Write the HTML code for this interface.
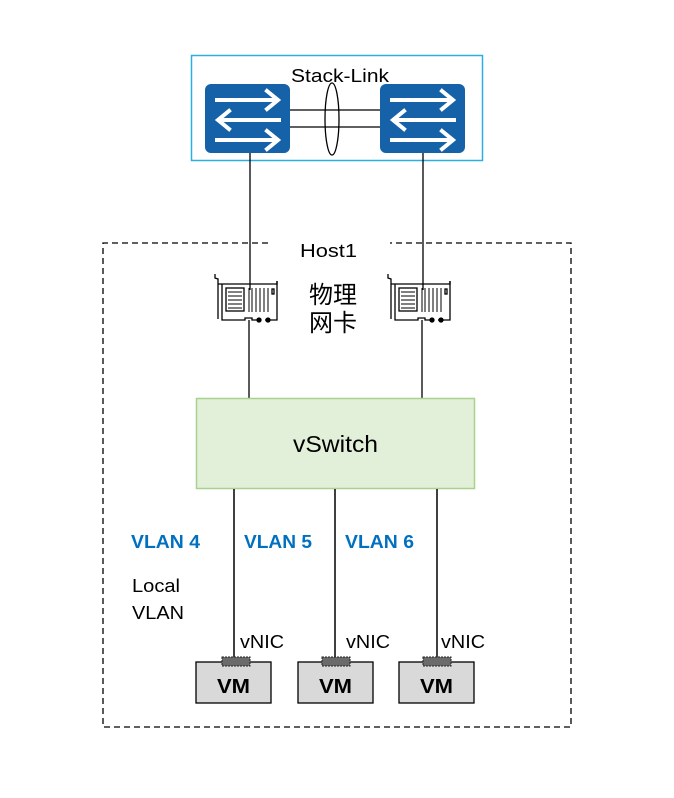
<!DOCTYPE html>
<html><head><meta charset="utf-8"><style>
html,body{margin:0;padding:0;background:#fff;}
svg{display:block;}
text{font-family:"Liberation Sans","Noto Sans CJK SC",sans-serif;}
</style></head><body>
<svg width="674" height="798" viewBox="0 0 674 798" xmlns="http://www.w3.org/2000/svg">
<defs>
<g id="sw">
<rect x="0" y="0" width="85" height="69" rx="6" fill="#1562a8"/>
<g stroke="#fff" stroke-width="4" fill="none" stroke-linecap="square">
<line x1="12" y1="16" x2="72" y2="16"/><polyline points="62,7 73,16 62,25"/>
<line x1="14" y1="36" x2="74" y2="36"/><polyline points="24,27 13,36 24,45"/>
<line x1="12" y1="56" x2="72" y2="56"/><polyline points="62,47 73,56 62,65"/>
</g>
</g>
<g id="nic" fill="none" stroke="#000" stroke-width="1.3">
<polyline points="215,274 215,278 218,279 218,319"/>
<polyline points="218,284 277,284 277,281"/>
<polyline points="277,281 277,320 265,320"/>
<polyline points="222,284 222,320 245,320 245,318 252,318 252,320 258,320"/>
<rect x="226" y="288" width="18" height="23"/>
<g stroke-width="1">
<line x1="228" y1="292" x2="242" y2="292"/><line x1="228" y1="296" x2="242" y2="296"/>
<line x1="228" y1="300" x2="242" y2="300"/><line x1="228" y1="304" x2="242" y2="304"/>
<line x1="228" y1="308" x2="242" y2="308"/>
<line x1="249" y1="288" x2="249" y2="312"/><line x1="252" y1="288" x2="252" y2="312"/>
<line x1="256" y1="288" x2="256" y2="312"/><line x1="260" y1="288" x2="260" y2="312"/>
<line x1="264" y1="288" x2="264" y2="312"/><line x1="268" y1="288" x2="268" y2="312"/>
</g>
<rect x="272" y="289" width="2" height="5"/>
<circle cx="259" cy="320" r="2" fill="#000"/><circle cx="268" cy="320" r="2" fill="#000"/>
</g>
</defs>
<rect x="191.5" y="55.5" width="291" height="105" fill="none" stroke="#2ab0e0" stroke-width="1.5"/>
<line x1="290" y1="110" x2="380" y2="110" stroke="#000" stroke-width="1.3"/>
<line x1="290" y1="127" x2="380" y2="127" stroke="#000" stroke-width="1.3"/>
<ellipse cx="332" cy="119" rx="7" ry="36" fill="none" stroke="#000" stroke-width="1.3"/>
<text x="291" y="82" font-size="18" textLength="98" lengthAdjust="spacingAndGlyphs">Stack-Link</text>
<use href="#sw" x="205" y="84"/>
<use href="#sw" x="380" y="84"/>
<path d="M268,243 H103 V727 H571 V243 H390" fill="none" stroke="#000" stroke-width="1.3" stroke-dasharray="6,4"/>
<text x="300" y="257" font-size="18" textLength="57" lengthAdjust="spacingAndGlyphs">Host1</text>
<line x1="250" y1="153" x2="250" y2="290" stroke="#000" stroke-width="1.3"/>
<line x1="423" y1="153" x2="423" y2="290" stroke="#000" stroke-width="1.3"/>
<use href="#nic"/>
<use href="#nic" x="173"/>
<line x1="249" y1="320" x2="249" y2="398" stroke="#000" stroke-width="1.3"/>
<line x1="422" y1="320" x2="422" y2="398" stroke="#000" stroke-width="1.3"/>
<text x="309" y="303" font-size="24" textLength="48" lengthAdjust="spacingAndGlyphs">物理</text>
<text x="309" y="331" font-size="24" textLength="48" lengthAdjust="spacingAndGlyphs">网卡</text>
<rect x="196.5" y="398.5" width="278" height="90" fill="#e2efd9" stroke="#a9d18e" stroke-width="1.5"/>
<text x="293" y="452" font-size="23" textLength="85" lengthAdjust="spacingAndGlyphs">vSwitch</text>
<g stroke="#000" stroke-width="1.5">
<line x1="234" y1="489" x2="234" y2="660"/>
<line x1="335" y1="489" x2="335" y2="660"/>
<line x1="437" y1="489" x2="437" y2="660"/>
</g>
<g font-size="18" font-weight="bold" fill="#0070c0">
<text x="131" y="548" textLength="69" lengthAdjust="spacingAndGlyphs">VLAN 4</text>
<text x="244" y="548" textLength="68" lengthAdjust="spacingAndGlyphs">VLAN 5</text>
<text x="345" y="548" textLength="69" lengthAdjust="spacingAndGlyphs">VLAN 6</text>
</g>
<text x="132" y="592" font-size="18" textLength="48" lengthAdjust="spacingAndGlyphs">Local</text>
<text x="132" y="619" font-size="18" textLength="52" lengthAdjust="spacingAndGlyphs">VLAN</text>
<g font-size="18">
<text x="240" y="648" textLength="44" lengthAdjust="spacingAndGlyphs">vNIC</text>
<text x="346" y="648" textLength="44" lengthAdjust="spacingAndGlyphs">vNIC</text>
<text x="441" y="648" textLength="44" lengthAdjust="spacingAndGlyphs">vNIC</text>
</g>
<g stroke="#000" stroke-width="1.3" fill="#d9d9d9">
<rect x="196" y="662" width="75" height="41"/>
<rect x="298" y="662" width="75" height="41"/>
<rect x="399" y="662" width="75" height="41"/>
</g>
<g fill="#6b6b6b" stroke="#222" stroke-width="1" stroke-dasharray="2,1">
<rect x="222" y="657" width="28" height="9"/>
<rect x="322" y="657" width="28" height="9"/>
<rect x="423" y="657" width="28" height="9"/>
</g>
<g font-size="20" font-weight="bold">
<text x="217" y="693" textLength="33" lengthAdjust="spacingAndGlyphs">VM</text>
<text x="319" y="693" textLength="33" lengthAdjust="spacingAndGlyphs">VM</text>
<text x="420" y="693" textLength="33" lengthAdjust="spacingAndGlyphs">VM</text>
</g>
</svg>
</body></html>
